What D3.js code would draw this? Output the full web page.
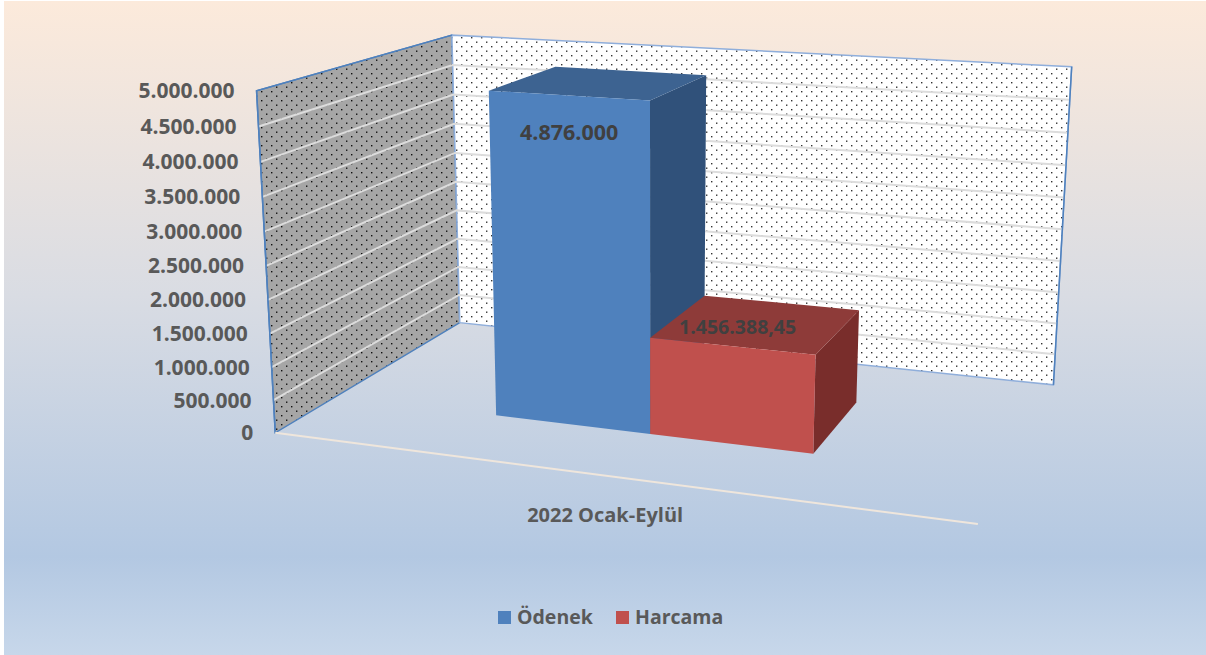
<!DOCTYPE html>
<html><head><meta charset="utf-8">
<script src="https://cdn.jsdelivr.net/npm/d3@7"></script>
<style>body{margin:0;background:#fff}</style>
</head><body><svg id="c" width="1206" height="655"></svg>
<script>
const categories = ["2022 Ocak-Eylül"];
const seriesNames = ["Ödenek", "Harcama"];
const seriesValues = [4876000, 1456388.45];
const valueLabels = ["4.876.000", "1.456.388,45"];
const tickValues = [0, 500000, 1000000, 1500000, 2000000, 2500000, 3000000, 3500000, 4000000, 4500000, 5000000];
const tickLabels = ["0", "500.000", "1.000.000", "1.500.000", "2.000.000", "2.500.000", "3.000.000", "3.500.000", "4.000.000", "4.500.000", "5.000.000"];
const seriesColors = [
  {front: "#4F81BD", top: "#3D6391", side: "#30517A"},
  {front: "#C0504D", top: "#8E3B39", side: "#792D2B"}
];
// label layout (screen offsets from the front-top centre of each bar)
const labelOffsets = [[1, 45, 21.5], [6, -12, 19.5]];

// camera calibration (world box corners -> screen)
const calib = [
  [[0,0,0],[275,432.7]],
  [[0,1,0],[256.7,91]],
  [[0,0,1],[460,322.7]],
  [[0,1,1],[451.7,35]],
  [[1,0,1],[1053.3,385]],
  [[1,1,1],[1071.7,66.7]],
  [[1,0,0],[978,524]]
];
function solveLin(A, b) {
  const n = b.length; A = A.map((r,i)=>r.concat([b[i]]));
  for (let c=0;c<n;c++){
    let p=c; for(let r=c+1;r<n;r++) if(Math.abs(A[r][c])>Math.abs(A[p][c])) p=r;
    [A[c],A[p]]=[A[p],A[c]];
    for(let r=0;r<n;r++){ if(r===c) continue; const f=A[r][c]/A[c][c]; for(let k=c;k<=n;k++) A[r][k]-=f*A[c][k]; }
  }
  return A.map((r,i)=>r[n]/r[i]);
}
const M=[], B=[];
calib.forEach(([[X,Y,Z],[u,v]])=>{
  M.push([X,Y,Z,1,0,0,0,0,-u*X,-u*Y,-u*Z]); B.push(u);
  M.push([0,0,0,0,X,Y,Z,1,-v*X,-v*Y,-v*Z]); B.push(v);
});
const NtN = d3.range(11).map(i=>d3.range(11).map(j=>d3.sum(M,r=>r[i]*r[j])));
const NtB = d3.range(11).map(i=>d3.sum(M.map((r,k)=>r[i]*B[k])));
const P = solveLin(NtN, NtB).concat([1]);
function proj(X,Y,Z){
  const w = P[8]*X+P[9]*Y+P[10]*Z+P[11];
  return [(P[0]*X+P[1]*Y+P[2]*Z+P[3])/w, (P[4]*X+P[5]*Y+P[6]*Z+P[7])/w];
}

const svg = d3.select("#c");
const defs = svg.append("defs");
const grad = defs.append("linearGradient").attr("id","bg").attr("x1",0).attr("y1",0).attr("x2",0).attr("y2",1);
[[0,"#FCEADB"],[0.45,"#D9DCE3"],[0.85,"#B3C8E2"],[1,"#C7D7EA"]].forEach(([o,c])=>grad.append("stop").attr("offset",o).attr("stop-color",c));
function dotPattern(id, bg, dot){
  const p = defs.append("pattern").attr("id",id).attr("width",10).attr("height",9).attr("patternUnits","userSpaceOnUse");
  p.append("rect").attr("width",10).attr("height",9).attr("fill",bg);
  p.append("rect").attr("x",1).attr("y",1).attr("width",1.4).attr("height",1.4).attr("fill",dot);
  p.append("rect").attr("x",6).attr("y",5.5).attr("width",1.4).attr("height",1.4).attr("fill",dot);
}
dotPattern("dotsGrey","#A6A6A6","#111");
dotPattern("dotsWhite","#FFFFFF","#333");

svg.append("rect").attr("x",4).attr("y",1).attr("width",1202).attr("height",654).attr("fill","url(#bg)");

const yS = d3.scaleLinear().domain([0,5000000]).range([0,1]);
const xCat = d3.scaleBand().domain(categories).range([0,1]).paddingInner(0).paddingOuter(0.548);
const xSer = d3.scaleBand().domain(seriesNames).range([xCat(categories[0]), xCat(categories[0])+xCat.bandwidth()]);
const zFront = 0.295, zBack = 0.69;

const line = d3.line();
const poly = pts => line(pts.map(p=>proj(...p)))+"Z";

// walls
svg.append("path").attr("d",poly([[0,0,0],[0,1,0],[0,1,1],[0,0,1]])).attr("fill","url(#dotsGrey)").attr("stroke","#4F81BD").attr("stroke-width",1.5);
svg.append("path").attr("d",poly([[0,0,1],[0,1,1],[1,1,1],[1,0,1]])).attr("fill","url(#dotsWhite)").attr("stroke","#8FAEDB").attr("stroke-width",1.5);
const grid = tickValues.filter(v=>v>0 && v<5000000);
svg.selectAll(".gs").data(grid).join("path").attr("d",v=>line([proj(0,yS(v),0),proj(0,yS(v),1),proj(1,yS(v),1)]))
  .attr("fill","none").attr("stroke","#DCDCDC").attr("stroke-width",2);
svg.append("path").attr("d",line([proj(0,0,0),proj(0,1,0),proj(0,1,1)])).attr("fill","none").attr("stroke","#4F81BD").attr("stroke-width",1.5);
svg.append("path").attr("d",line([proj(1,1,1),proj(1,0,1)])).attr("fill","none").attr("stroke","#4F81BD").attr("stroke-width",1.5);

// category axis line
svg.append("path").attr("d",line([proj(0,0,0),proj(1,0,0)])).attr("stroke","#EFE6DC").attr("stroke-width",2).attr("fill","none");

// bars
seriesNames.forEach((s,i)=>{
  const x0 = xSer(s), x1 = x0 + xSer.bandwidth(), h = yS(seriesValues[i]);
  const g = svg.append("g");
  g.append("path").attr("d",poly([[x1,0,zFront],[x1,h,zFront],[x1,h,zBack],[x1,0,zBack]])).attr("fill",seriesColors[i].side);
  g.append("path").attr("d",poly([[x0,h,zFront],[x0,h,zBack],[x1,h,zBack],[x1,h,zFront]])).attr("fill",seriesColors[i].top);
  g.append("path").attr("d",poly([[x0,0,zFront],[x0,h,zFront],[x1,h,zFront],[x1,0,zFront]])).attr("fill",seriesColors[i].front);
});

// data labels
seriesNames.forEach((s,i)=>{
  const c = proj(xSer(s)+xSer.bandwidth()/2, yS(seriesValues[i]), zFront);
  svg.append("text").attr("x",c[0]+labelOffsets[i][0]).attr("y",c[1]+labelOffsets[i][1])
    .attr("text-anchor","middle").attr("font-family","Open Sans").attr("font-weight","bold")
    .attr("font-size",labelOffsets[i][2]).attr("fill","#404040").text(valueLabels[i]);
});

// tick labels
svg.selectAll(".tl").data(tickValues).join("text")
  .attr("x",(v)=>proj(0,yS(v),0)[0]-22).attr("y",v=>proj(0,yS(v),0)[1]+7.5)
  .attr("text-anchor","end").attr("font-family","Open Sans").attr("font-weight","bold").attr("font-size",21).attr("fill","#595959")
  .text((v,i)=>tickLabels[i]);

// category label
const cc = proj(xCat(categories[0])+xCat.bandwidth()/2, 0, 0);
svg.append("text").attr("x",cc[0]+1).attr("y",cc[1]+46).attr("text-anchor","middle")
  .attr("font-family","Open Sans").attr("font-weight","bold").attr("font-size",20).attr("fill","#595959").text(categories[0]);

// legend
const legendX = [498, 616];
const lg = svg.append("g");
seriesNames.forEach((s,i)=>{
  lg.append("rect").attr("x",legendX[i]).attr("y",611).attr("width",13).attr("height",13).attr("fill",seriesColors[i].front);
  lg.append("text").attr("x",legendX[i]+19).attr("y",624).attr("font-family","Open Sans").attr("font-weight","bold")
    .attr("font-size",19.5).attr("fill","#595959").text(s);
});
</script></body></html>
